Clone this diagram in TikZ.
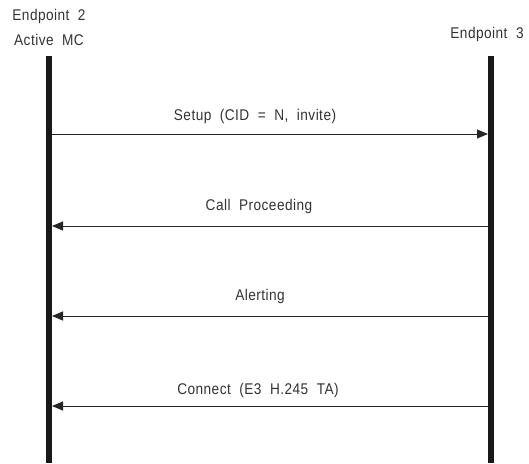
\documentclass[tikz,border=0pt]{standalone}
\usepackage{fontspec}
\setmainfont{Liberation Sans}[LetterSpace=3, WordSpace=2, FakeStretch=0.88]
\usetikzlibrary{arrows.meta}
\tikzset{
  lifeline/.style={line width=6pt, black!90},
  msg/.style={line width=0.9pt, black!85, -{Triangle[length=11pt, width=9pt]}},
  lbl/.style={font=\fontsize{15.5}{25}\selectfont, text=black!80, inner sep=1pt},
}
\begin{document}
\begin{tikzpicture}[x=1pt, y=-1pt]
\useasboundingbox (0,0) rectangle (529,463);
\node[lbl, align=center] (ep2) at (49,27) {Endpoint 2\\Active MC};
\node[lbl] (ep3) at (487,34) {Endpoint 3};
\coordinate (l0) at (49,56);
\coordinate (l1) at (49,463);
\coordinate (r0) at (491,56);
\coordinate (r1) at (491,463);
\draw[lifeline] (l0) -- (l1);
\draw[lifeline] (r0) -- (r1);
\coordinate (a1) at (52,134);
\coordinate (b1) at (488,134);
\coordinate (a2) at (52,226);
\coordinate (b2) at (488,226);
\coordinate (a3) at (52,316);
\coordinate (b3) at (488,316);
\coordinate (a4) at (52,406);
\coordinate (b4) at (488,406);
\draw[msg] (a1) -- (b1);
\draw[msg] (b2) -- (a2);
\draw[msg] (b3) -- (a3);
\draw[msg] (b4) -- (a4);
\node[lbl] (m1) at (255,116) {Setup (CID = N, invite)};
\node[lbl] (m2) at (259,206) {Call Proceeding};
\node[lbl] (m3) at (260,296) {Alerting};
\node[lbl] (m4) at (258,390) {Connect (E3 H.245 TA)};
\end{tikzpicture}
\end{document}
